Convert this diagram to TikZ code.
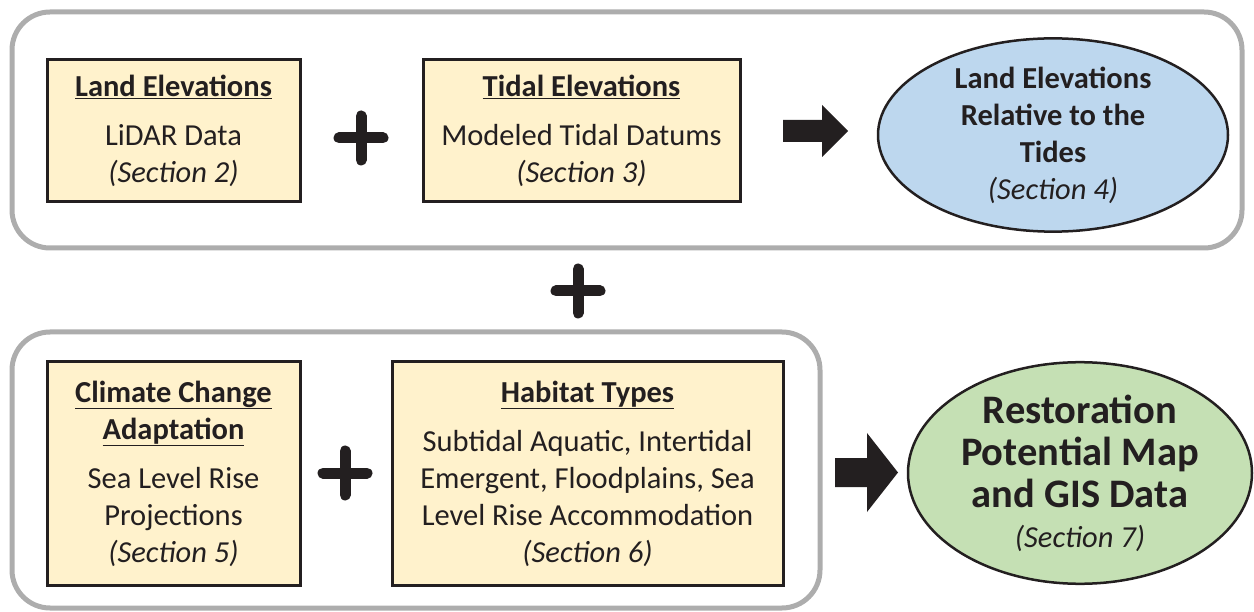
\documentclass[tikz,border=0pt]{standalone}
\usepackage{fontspec}
\setmainfont{Carlito}
\usetikzlibrary{shapes.geometric}
\definecolor{boxyellow}{HTML}{FFF2CC}
\definecolor{tideblue}{HTML}{BDD7EE}
\definecolor{mapgreen}{HTML}{C5E0B4}
\definecolor{framegray}{HTML}{ADADAD}
\definecolor{ink}{HTML}{231F20}
\begin{document}
\begin{tikzpicture}[x=1pt, y=-1pt,
  frame/.style = {draw=framegray, line width=5pt, rounded corners=38pt},
  infobox/.style = {draw=ink, line width=3pt, fill=boxyellow, inner sep=0pt,
    align=center, text=ink, font=\fontsize{30.5}{37}\selectfont},
  result/.style = {ellipse, draw=ink, line width=2.5pt, inner sep=0pt,
    align=center, text=ink},
  plusmark/.style = {draw=ink, line width=11pt, line cap=round},
  blockarrow/.style = {fill=ink}]
\useasboundingbox (0,0) rectangle (1254,612);

% the two groups
\draw[frame] (12,12) rectangle (1242,248);
\draw[frame] (12,332) rectangle (820,608);

% inputs
\node[infobox, minimum width=253pt, minimum height=142pt] (land) at (173.5,131)
   {{\bfseries\underline{Land Elevations}}\\[12pt] LiDAR Data\\ \textit{(Section 2)}};
\node[infobox, minimum width=317pt, minimum height=142pt] (tidal) at (581.5,131)
   {{\bfseries\underline{Tidal Elevations}}\\[12pt] Modeled Tidal Datums\\ \textit{(Section 3)}};
\node[infobox, minimum width=253pt, minimum height=223pt] (climate) at (173.5,473.5)
   {{\bfseries\underline{Climate Change}}\\ {\bfseries\underline{Adaptation}}\\[12pt]
    Sea Level Rise\\ Projections\\ \textit{(Section 5)}};
\node[infobox, minimum width=391pt, minimum height=223pt] (habitat) at (587.5,473.5)
   {{\bfseries\underline{Habitat Types}}\\[12pt] Subtidal Aquatic, Intertidal\\
    Emergent, Floodplains, Sea\\ Level Rise Accommodation\\ \textit{(Section 6)}};

% results
\node[result, fill=tideblue, minimum width=350pt, minimum height=182pt,
      font=\bfseries\fontsize{30.5}{37}\selectfont] (tides) at (1053,135)
   {Land Elevations\\ Relative to the\\ Tides\\ {\mdseries\itshape (Section 4)}};
\node[result, fill=mapgreen, minimum width=344pt, minimum height=190pt,
      font=\bfseries\fontsize{40.5}{42}\selectfont] (map) at (1080,473)
   {Restoration\\ Potential Map\\ and GIS Data\\[-2pt]
    {\mdseries\itshape\fontsize{30.5}{37}\selectfont (Section 7)}};

% plus signs
\foreach \px/\py in {361/138, 578/291, 345/473}
   \draw[plusmark] (\px-22,\py) -- (\px+22,\py) (\px,\py-22) -- (\px,\py+22);

% block arrows
\coordinate (arrA) at (783,131);
\fill[blockarrow] (arrA) ++(0,-11) -- ++(39,0) -- ++(0,-15) -- ++(26,26)
   -- ++(-26,26) -- ++(0,-15) -- ++(-39,0) -- cycle;
\coordinate (arrB) at (835,472.5);
\fill[blockarrow] (arrB) ++(0,-14.5) -- ++(32,0) -- ++(0,-25) -- ++(31,39.5)
   -- ++(-31,39.5) -- ++(0,-25) -- ++(-32,0) -- cycle;
\end{tikzpicture}
\end{document}
